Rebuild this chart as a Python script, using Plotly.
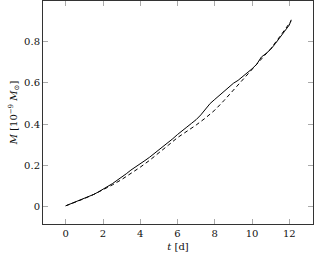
import plotly.graph_objects as go

# Solid curve (t in days, M in 1e-9 Msun)
t_solid = [0.0, 0.25, 0.5, 0.75, 1.0, 1.25, 1.5, 1.75, 2.0, 2.25, 2.5, 2.75, 3.0, 3.25, 3.5, 3.75,
           4.0, 4.25, 4.5, 4.75, 5.0, 5.25, 5.5, 5.75, 6.0, 6.25, 6.5, 6.75, 7.0, 7.25, 7.5, 7.75,
           8.0, 8.25, 8.5, 8.75, 9.0, 9.25, 9.5, 9.75, 10.0, 10.25, 10.5, 10.75, 11.0, 11.25, 11.5,
           11.75, 12.0, 12.1]
m_solid = [0.005, 0.014, 0.024, 0.033, 0.042, 0.050, 0.060, 0.072, 0.085, 0.097, 0.112, 0.128, 0.142,
           0.160, 0.178, 0.192, 0.210, 0.224, 0.240, 0.258, 0.272, 0.292, 0.312, 0.330, 0.350, 0.366,
           0.386, 0.404, 0.422, 0.445, 0.472, 0.500, 0.520, 0.540, 0.558, 0.580, 0.598, 0.612, 0.630,
           0.650, 0.668, 0.690, 0.725, 0.742, 0.762, 0.790, 0.818, 0.850, 0.880, 0.905]

# Dashed curve
t_dashed = [0.0, 0.5, 1.0, 1.5, 2.0, 2.5, 3.0, 3.5, 4.0, 4.5, 5.0, 5.5, 6.0, 6.5, 7.0, 7.5, 8.0,
            8.5, 9.0, 9.5, 10.0, 10.5, 11.0, 11.5, 12.0, 12.1]
m_dashed = [0.005, 0.022, 0.040, 0.060, 0.082, 0.106, 0.132, 0.160, 0.192, 0.225, 0.260, 0.298,
            0.335, 0.365, 0.396, 0.430, 0.468, 0.515, 0.565, 0.612, 0.660, 0.710, 0.765, 0.825,
            0.885, 0.900]

x_ticks = [0, 2, 4, 6, 8, 10, 12]
y_ticks = [0, 0.2, 0.4, 0.6, 0.8]
y_tick_labels = ["0", "0.2", "0.4", "0.6", "0.8"]

font = dict(family="DejaVu Serif", size=10, color="#111")

fig = go.Figure()
fig.add_trace(go.Scatter(x=t_solid, y=m_solid, mode="lines",
                         line=dict(color="black", width=1), showlegend=False))
fig.add_trace(go.Scatter(x=t_dashed, y=m_dashed, mode="lines",
                         line=dict(color="black", width=1, dash="4px,3px"), showlegend=False))

axis_common = dict(showline=True, linecolor="#333", linewidth=1, mirror="ticks",
                   ticks="inside", ticklen=5, tickcolor="#aaa", showgrid=False, zeroline=False,
                   tickfont=font, automargin=False)

fig.update_xaxes(range=[-1.22, 13.27], tickvals=x_ticks,
                 title=dict(text="<i>t</i> [d]", font=font, standoff=4), **axis_common)
fig.update_yaxes(range=[-0.083, 0.996], tickvals=y_ticks, ticktext=y_tick_labels,
                 title=dict(text="<i>M</i> [10<sup>−9</sup> <i>M</i><sub>⊙</sub>]", font=font, standoff=4),
                 **axis_common)

fig.update_layout(width=314, height=259, margin=dict(l=43, r=1, t=1, b=35),
                  paper_bgcolor="white", plot_bgcolor="white", font=font)

fig.write_html("out.html", config={"displayModeBar": False},
               post_script="document.body.style.margin='0';document.body.style.overflow='hidden';")
